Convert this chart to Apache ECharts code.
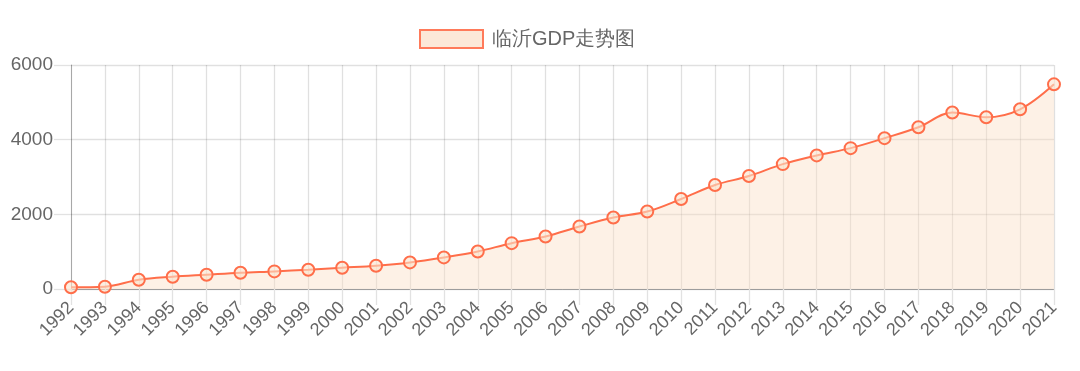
<!DOCTYPE html>
<html><head><meta charset="utf-8">
<script src="https://cdn.jsdelivr.net/npm/echarts@6/dist/echarts.min.js"></script>
<style>html,body{margin:0;padding:0;background:#fff}#c{width:1080px;height:371px}</style>
</head><body><div id="c"></div>
<script>
const years = ['1992','1993','1994','1995','1996','1997','1998','1999','2000','2001','2002','2003','2004','2005','2006','2007','2008','2009','2010','2011','2012','2013','2014','2015','2016','2017','2018','2019','2020','2021'];
const gdp = [45,62,249,329,383,436,472,516,570,623,712,846,1006,1228,1406,1673,1914,2074,2411,2785,3025,3345,3578,3773,4040,4334,4726,4600,4814,5482];
const seriesName = '临沂GDP走势图';

const chart = echarts.init(document.getElementById('c'), null, {renderer:'canvas'});
const font = '"Liberation Sans", Arial, sans-serif';
chart.setOption({
  animation:false,
  textStyle:{fontFamily:font},
  legend:{
    top:24, left:414, padding:5, itemWidth:63, itemHeight:18, itemGap:10,
    textStyle:{fontSize:20, color:'#666', fontFamily:font, padding:[0,0,0,4]},
    icon:'rect',
    data:[{name:seriesName, itemStyle:{color:'rgba(252,230,212,0.9)', borderColor:'#ff7a5a', borderWidth:2}}]
  },
  grid:{left:71, right:26, top:65, bottom:82, containLabel:false},
  xAxis:{
    type:'category', data:years, boundaryGap:false,
    axisLine:{show:true, lineStyle:{color:'rgba(0,0,0,0.3)', width:1}},
    axisTick:{show:true, length:16, lineStyle:{color:'#e2e2e2', width:1.3}},
    splitLine:{show:true, lineStyle:{color:'rgba(0,0,0,0.12)', width:1.3}},
    axisLabel:{rotate:45, fontSize:18, color:'#666', margin:16, interval:0, fontFamily:font}
  },
  yAxis:{
    type:'value', min:0, max:6000, interval:2000,
    axisLine:{show:true, lineStyle:{color:'rgba(0,0,0,0.25)'}},
    axisTick:{show:true, length:17, lineStyle:{color:'#e2e2e2', width:1.3}},
    splitLine:{show:true, lineStyle:{color:'rgba(0,0,0,0.12)', width:1.3}},
    axisLabel:{fontSize:19, color:'#666', margin:18, fontFamily:font, formatter:v=>String(v)}
  },
  series:[{
    name:seriesName, type:'line', data:gdp, smooth:0.35,
    symbol:'circle', symbolSize:12,
    lineStyle:{color:'#ff6e4a', width:2},
    itemStyle:{color:'rgba(252,226,204,0.6)', borderColor:'#ff6e4a', borderWidth:2},
    areaStyle:{color:'rgba(250,222,196,0.6)'}
  }]
});
</script></body></html>
